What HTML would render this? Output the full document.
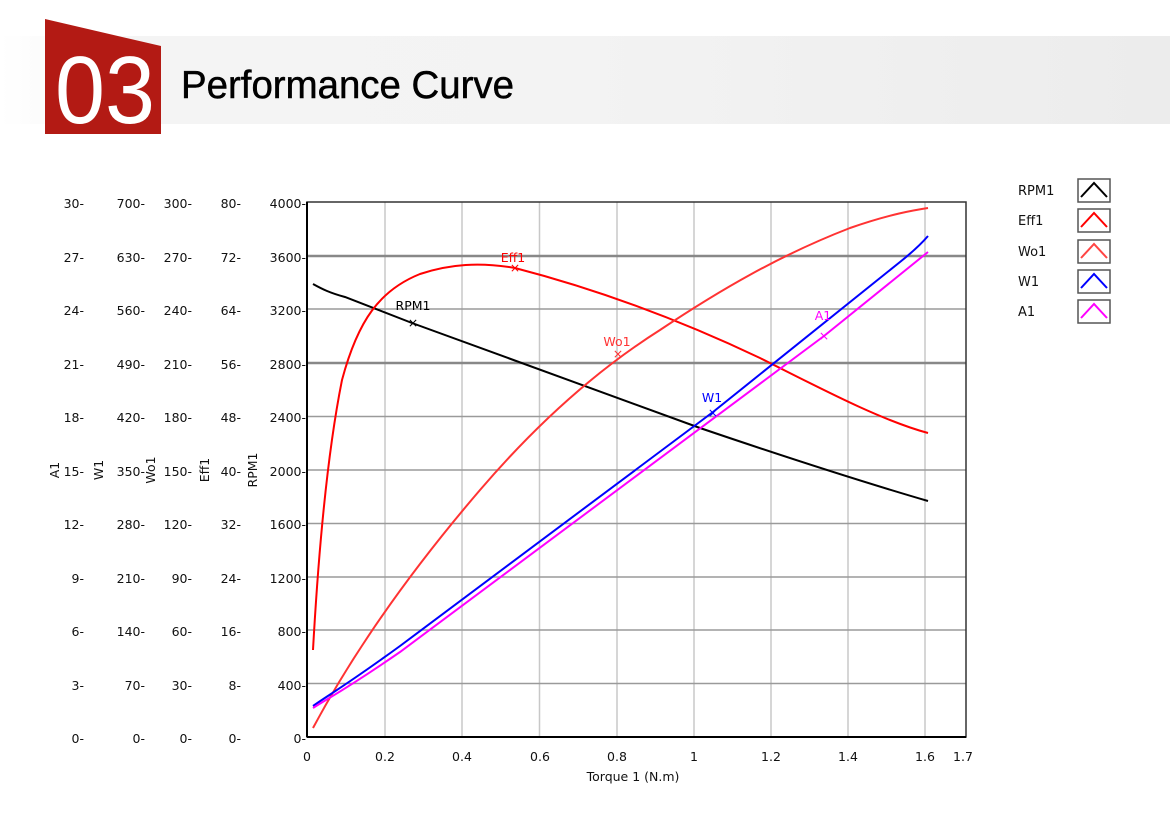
<!DOCTYPE html>
<html><head><meta charset="utf-8"><style>
body{margin:0;width:1170px;height:829px;background:#fff;overflow:hidden;font-family:"Liberation Sans","DejaVu Sans",sans-serif}
</style></head><body>
<svg width="1170" height="829" xmlns="http://www.w3.org/2000/svg" font-family="DejaVu Sans, Liberation Sans, sans-serif">
<defs><linearGradient id="g" x1="0" x2="1"><stop offset="0" stop-color="#fff"/><stop offset="0.12" stop-color="#f4f4f4"/><stop offset="0.5" stop-color="#f3f3f3"/><stop offset="1" stop-color="#ececec"/></linearGradient></defs>
<rect x="0" y="36" width="1170" height="88" fill="url(#g)"/>
<polygon points="45,19 161,46 161,134 45,134" fill="#b31a14"/>
<text x="55" y="123" font-family="Liberation Sans" font-size="96" fill="#fff" textLength="100" lengthAdjust="spacingAndGlyphs">03</text>
<text x="181" y="98" font-family="Liberation Sans" font-size="38.5" fill="#000" stroke="#000" stroke-width="0.5" textLength="333" lengthAdjust="spacingAndGlyphs">Performance Curve</text>
<g stroke="#c8c8c8" stroke-width="1.5">
<line x1="385" y1="202" x2="385" y2="737"/><line x1="462" y1="202" x2="462" y2="737"/><line x1="539.5" y1="202" x2="539.5" y2="737"/><line x1="617" y1="202" x2="617" y2="737"/><line x1="694" y1="202" x2="694" y2="737"/><line x1="771" y1="202" x2="771" y2="737"/><line x1="848" y1="202" x2="848" y2="737"/><line x1="925" y1="202" x2="925" y2="737"/>
</g>
<g stroke="#9a9a9a" stroke-width="1.5">
<line x1="307" y1="309" x2="966" y2="309"/><line x1="307" y1="416.5" x2="966" y2="416.5"/><line x1="307" y1="470" x2="966" y2="470"/><line x1="307" y1="523.5" x2="966" y2="523.5"/><line x1="307" y1="577" x2="966" y2="577"/><line x1="307" y1="630" x2="966" y2="630"/><line x1="307" y1="683.5" x2="966" y2="683.5"/>
</g>
<g stroke="#888" stroke-width="2.5"><line x1="307" y1="256" x2="966" y2="256"/><line x1="307" y1="363" x2="966" y2="363"/></g>
<rect x="307" y="202" width="659" height="535" fill="none" stroke="#333" stroke-width="1.5"/>
<line x1="307" y1="202" x2="307" y2="737" stroke="#000" stroke-width="2"/>
<line x1="307" y1="737" x2="966" y2="737" stroke="#000" stroke-width="2"/>
<g font-size="12.5" fill="#111" text-anchor="end">
<text x="84" y="208">30-</text><text x="84" y="262">27-</text><text x="84" y="315">24-</text><text x="84" y="369">21-</text><text x="84" y="422">18-</text><text x="84" y="476">15-</text><text x="84" y="529">12-</text><text x="84" y="583">9-</text><text x="84" y="636">6-</text><text x="84" y="690">3-</text><text x="84" y="743">0-</text>
<text x="145" y="208">700-</text><text x="145" y="262">630-</text><text x="145" y="315">560-</text><text x="145" y="369">490-</text><text x="145" y="422">420-</text><text x="145" y="476">350-</text><text x="145" y="529">280-</text><text x="145" y="583">210-</text><text x="145" y="636">140-</text><text x="145" y="690">70-</text><text x="145" y="743">0-</text>
<text x="192" y="208">300-</text><text x="192" y="262">270-</text><text x="192" y="315">240-</text><text x="192" y="369">210-</text><text x="192" y="422">180-</text><text x="192" y="476">150-</text><text x="192" y="529">120-</text><text x="192" y="583">90-</text><text x="192" y="636">60-</text><text x="192" y="690">30-</text><text x="192" y="743">0-</text>
<text x="241" y="208">80-</text><text x="241" y="262">72-</text><text x="241" y="315">64-</text><text x="241" y="369">56-</text><text x="241" y="422">48-</text><text x="241" y="476">40-</text><text x="241" y="529">32-</text><text x="241" y="583">24-</text><text x="241" y="636">16-</text><text x="241" y="690">8-</text><text x="241" y="743">0-</text>
<text x="306" y="208">4000-</text><text x="306" y="262">3600-</text><text x="306" y="315">3200-</text><text x="306" y="369">2800-</text><text x="306" y="422">2400-</text><text x="306" y="476">2000-</text><text x="306" y="529">1600-</text><text x="306" y="583">1200-</text><text x="306" y="636">800-</text><text x="306" y="690">400-</text><text x="306" y="743">0-</text>
</g>
<g font-size="12.5" fill="#111" text-anchor="middle">
<text x="307" y="761">0</text><text x="385" y="761">0.2</text><text x="462" y="761">0.4</text><text x="540" y="761">0.6</text><text x="617" y="761">0.8</text><text x="694" y="761">1</text><text x="771" y="761">1.2</text><text x="848" y="761">1.4</text><text x="925" y="761">1.6</text><text x="963" y="761">1.7</text>
<text x="633" y="781">Torque 1 (N.m)</text>
<text transform="translate(59,470) rotate(-90)">A1</text>
<text transform="translate(103,470) rotate(-90)">W1</text>
<text transform="translate(155,470) rotate(-90)">Wo1</text>
<text transform="translate(209,470) rotate(-90)">Eff1</text>
<text transform="translate(257,470) rotate(-90)">RPM1</text>
</g>
<g fill="none" stroke-width="2">
<path d="M313,284 C322,289 330,293 345,297 L412,323 L700,428 C800,462 880,487 928,501" stroke="#000"/>
<path d="M313,650 C318,560 326,460 342,380 C358,320 380,290 420,274 C450,264 480,262 515,268 C600,290 680,320 760,358 C820,388 880,420 928,433" stroke="#f00"/>
<path d="M313,728 C360,640 420,560 480,490 C540,420 600,368 660,330 C720,290 780,255 850,228 C890,214 915,210 928,208" stroke="#f33"/>
<path d="M313,706 C330,694 345,686 400,646 L713,412 L900,262 C915,250 922,243 928,236" stroke="#00f"/>
<path d="M313,708 C330,697 345,690 400,652 L824,336 L928,252" stroke="#f0f"/>
</g>
<g font-size="12.5" text-anchor="middle">
<text x="413" y="310" fill="#000">RPM1</text><text x="413" y="327" fill="#000">×</text>
<text x="513" y="262" fill="#f00">Eff1</text><text x="515" y="272" fill="#f00">×</text>
<text x="617" y="346" fill="#f33">Wo1</text><text x="618" y="358" fill="#f33">×</text>
<text x="712" y="402" fill="#00f">W1</text><text x="713" y="417" fill="#00f">×</text>
<text x="823" y="320" fill="#f0f">A1</text><text x="824" y="340" fill="#f0f">×</text>
</g>
<g font-size="13" fill="#111">
<text x="1018" y="195">RPM1</text><text x="1018" y="225">Eff1</text><text x="1018" y="256">Wo1</text><text x="1018" y="286">W1</text><text x="1018" y="316">A1</text>
</g>
<g fill="#fff" stroke="#555" stroke-width="1.5">
<rect x="1078" y="179" width="32" height="23"/><rect x="1078" y="209" width="32" height="23"/><rect x="1078" y="240" width="32" height="23"/><rect x="1078" y="270" width="32" height="23"/><rect x="1078" y="300" width="32" height="23"/>
</g>
<g fill="none" stroke-width="2">
<path d="M1081,197 L1094,183 L1107,197" stroke="#000"/>
<path d="M1081,227 L1094,213 L1107,227" stroke="#f00"/>
<path d="M1081,258 L1094,244 L1107,258" stroke="#f44"/>
<path d="M1081,288 L1094,274 L1107,288" stroke="#00f"/>
<path d="M1081,318 L1094,304 L1107,318" stroke="#f0f"/>
</g>
</svg>
</body></html>
